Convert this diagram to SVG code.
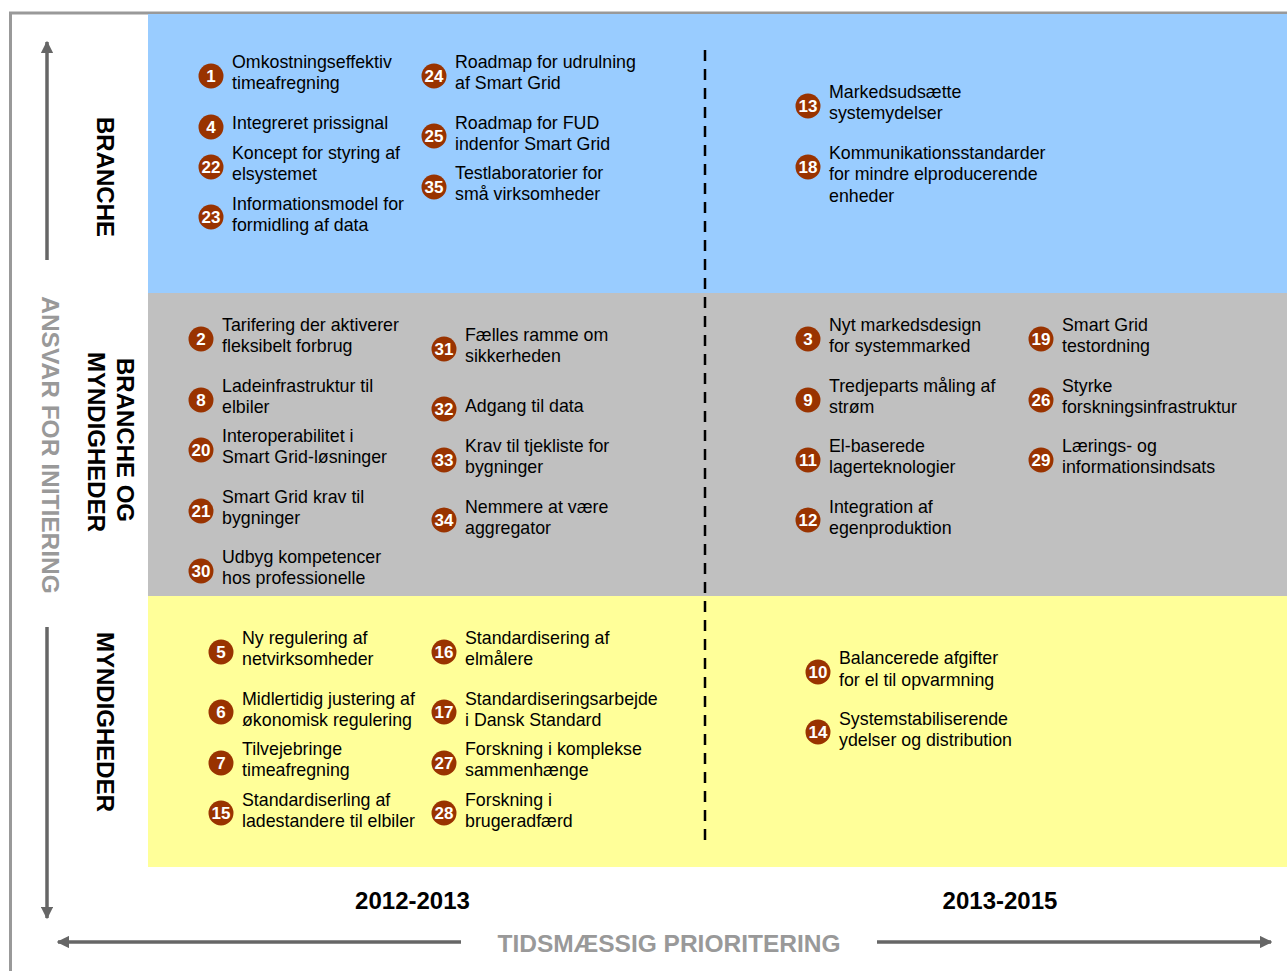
<svg xmlns="http://www.w3.org/2000/svg" width="1287" height="971" viewBox="0 0 1287 971">
<defs>
<style>
.it{font-family:"Liberation Sans",Arial,sans-serif;font-size:17.8px;fill:#000}
.bn{font-family:"Liberation Sans",Arial,sans-serif;font-size:17px;font-weight:bold;fill:#fff;text-anchor:middle}
.bc{fill:#993300}
.lab{font-family:"Liberation Sans",Arial,sans-serif;font-size:24px;font-weight:bold;fill:#000;text-anchor:middle}
.glab{font-family:"Liberation Sans",Arial,sans-serif;font-size:24.5px;font-weight:bold;fill:#999;text-anchor:middle}
.ax{stroke:#666;stroke-width:3.5;fill:none}
</style>
<marker id="ah" viewBox="0 0 10 10" refX="9" refY="5" markerWidth="3.6" markerHeight="3.6" orient="auto" markerUnits="strokeWidth">
<path d="M0,0 L10,5 L0,10 z" fill="#666"/>
</marker>
</defs>
<rect width="1287" height="971" fill="#fff"/>
<g id="frame">
<path d="M10.5,971 V13 H1287" stroke="#999" stroke-width="3" fill="none"/>
</g>
<g id="bands">
<rect x="148" y="14" width="1139" height="279" fill="#99CCFF"/>
<rect x="148" y="293" width="1139" height="303" fill="#C0C0C0"/>
<rect x="148" y="596" width="1139" height="271" fill="#FFFF99"/>
</g>
<g id="connectors">
<line x1="47" y1="260" x2="47" y2="42" class="ax" marker-end="url(#ah)"/>
<line x1="47" y1="627" x2="47" y2="918" class="ax" marker-end="url(#ah)"/>
<line x1="461" y1="942" x2="58" y2="942" class="ax" marker-end="url(#ah)"/>
<line x1="877" y1="942" x2="1271" y2="942" class="ax" marker-end="url(#ah)"/>
<line x1="705" y1="50" x2="705" y2="842" stroke="#000" stroke-width="2.5" stroke-dasharray="11 8"/>
</g>
<g id="labels">
<text class="lab" transform="translate(97,177) rotate(90)">BRANCHE</text>
<text class="lab" transform="translate(117,440) rotate(90)">BRANCHE OG</text>
<text class="lab" transform="translate(88,442) rotate(90)">MYNDIGHEDER</text>
<text class="lab" transform="translate(97,722) rotate(90)">MYNDIGHEDER</text>
<text class="glab" transform="translate(42,445) rotate(90)">ANSVAR FOR INITIERING</text>
<text class="lab" x="412.5" y="909">2012-2013</text>
<text class="lab" x="1000" y="909">2013-2015</text>
<text class="glab" x="669" y="952">TIDSMÆSSIG PRIORITERING</text>
</g>
<g id="n1"><circle class="bc" cx="211" cy="76" r="12.5"/><text class="bn" x="211" y="82">1</text><text class="it" x="232" y="68">Omkostningseffektiv</text><text class="it" x="232" y="89">timeafregning</text></g>
<g id="n4"><circle class="bc" cx="211" cy="127" r="12.5"/><text class="bn" x="211" y="133">4</text><text class="it" x="232" y="129">Integreret prissignal</text></g>
<g id="n22"><circle class="bc" cx="211" cy="167" r="12.5"/><text class="bn" x="211" y="173">22</text><text class="it" x="232" y="159">Koncept for styring af</text><text class="it" x="232" y="180">elsystemet</text></g>
<g id="n23"><circle class="bc" cx="211" cy="217" r="12.5"/><text class="bn" x="211" y="223">23</text><text class="it" x="232" y="210">Informationsmodel for</text><text class="it" x="232" y="231">formidling af data</text></g>
<g id="n24"><circle class="bc" cx="434" cy="76" r="12.5"/><text class="bn" x="434" y="82">24</text><text class="it" x="455" y="68">Roadmap for udrulning</text><text class="it" x="455" y="89">af Smart Grid</text></g>
<g id="n25"><circle class="bc" cx="434" cy="136" r="12.5"/><text class="bn" x="434" y="142">25</text><text class="it" x="455" y="129">Roadmap for FUD</text><text class="it" x="455" y="150">indenfor Smart Grid</text></g>
<g id="n35"><circle class="bc" cx="434" cy="187" r="12.5"/><text class="bn" x="434" y="193">35</text><text class="it" x="455" y="179">Testlaboratorier for</text><text class="it" x="455" y="200">små virksomheder</text></g>
<g id="n13"><circle class="bc" cx="808" cy="106" r="12.5"/><text class="bn" x="808" y="112">13</text><text class="it" x="829" y="98">Markedsudsætte</text><text class="it" x="829" y="119">systemydelser</text></g>
<g id="n18"><circle class="bc" cx="808" cy="167" r="12.5"/><text class="bn" x="808" y="173">18</text><text class="it" x="829" y="159">Kommunikationsstandarder</text><text class="it" x="829" y="180">for mindre elproducerende</text><text class="it" x="829" y="202">enheder</text></g>
<g id="n2"><circle class="bc" cx="201" cy="339" r="12.5"/><text class="bn" x="201" y="345">2</text><text class="it" x="222" y="331">Tarifering der aktiverer</text><text class="it" x="222" y="352">fleksibelt forbrug</text></g>
<g id="n8"><circle class="bc" cx="201" cy="400" r="12.5"/><text class="bn" x="201" y="406">8</text><text class="it" x="222" y="392">Ladeinfrastruktur til</text><text class="it" x="222" y="413">elbiler</text></g>
<g id="n20"><circle class="bc" cx="201" cy="450" r="12.5"/><text class="bn" x="201" y="456">20</text><text class="it" x="222" y="442">Interoperabilitet i</text><text class="it" x="222" y="463">Smart Grid-løsninger</text></g>
<g id="n21"><circle class="bc" cx="201" cy="511" r="12.5"/><text class="bn" x="201" y="517">21</text><text class="it" x="222" y="503">Smart Grid krav til</text><text class="it" x="222" y="524">bygninger</text></g>
<g id="n30"><circle class="bc" cx="201" cy="571" r="12.5"/><text class="bn" x="201" y="577">30</text><text class="it" x="222" y="563">Udbyg kompetencer</text><text class="it" x="222" y="584">hos professionelle</text></g>
<g id="n31"><circle class="bc" cx="444" cy="349" r="12.5"/><text class="bn" x="444" y="355">31</text><text class="it" x="465" y="341">Fælles ramme om</text><text class="it" x="465" y="362">sikkerheden</text></g>
<g id="n32"><circle class="bc" cx="444" cy="409" r="12.5"/><text class="bn" x="444" y="415">32</text><text class="it" x="465" y="412">Adgang til data</text></g>
<g id="n33"><circle class="bc" cx="444" cy="460" r="12.5"/><text class="bn" x="444" y="466">33</text><text class="it" x="465" y="452">Krav til tjekliste for</text><text class="it" x="465" y="473">bygninger</text></g>
<g id="n34"><circle class="bc" cx="444" cy="520" r="12.5"/><text class="bn" x="444" y="526">34</text><text class="it" x="465" y="513">Nemmere at være</text><text class="it" x="465" y="534">aggregator</text></g>
<g id="n3"><circle class="bc" cx="808" cy="339" r="12.5"/><text class="bn" x="808" y="345">3</text><text class="it" x="829" y="331">Nyt markedsdesign</text><text class="it" x="829" y="352">for systemmarked</text></g>
<g id="n9"><circle class="bc" cx="808" cy="400" r="12.5"/><text class="bn" x="808" y="406">9</text><text class="it" x="829" y="392">Tredjeparts måling af</text><text class="it" x="829" y="413">strøm</text></g>
<g id="n11"><circle class="bc" cx="808" cy="460" r="12.5"/><text class="bn" x="808" y="466">11</text><text class="it" x="829" y="452">El-baserede</text><text class="it" x="829" y="473">lagerteknologier</text></g>
<g id="n12"><circle class="bc" cx="808" cy="520" r="12.5"/><text class="bn" x="808" y="526">12</text><text class="it" x="829" y="513">Integration af</text><text class="it" x="829" y="534">egenproduktion</text></g>
<g id="n19"><circle class="bc" cx="1041" cy="339" r="12.5"/><text class="bn" x="1041" y="345">19</text><text class="it" x="1062" y="331">Smart Grid</text><text class="it" x="1062" y="352">testordning</text></g>
<g id="n26"><circle class="bc" cx="1041" cy="400" r="12.5"/><text class="bn" x="1041" y="406">26</text><text class="it" x="1062" y="392">Styrke</text><text class="it" x="1062" y="413">forskningsinfrastruktur</text></g>
<g id="n29"><circle class="bc" cx="1041" cy="460" r="12.5"/><text class="bn" x="1041" y="466">29</text><text class="it" x="1062" y="452">Lærings- og</text><text class="it" x="1062" y="473">informationsindsats</text></g>
<g id="n5"><circle class="bc" cx="221" cy="652" r="12.5"/><text class="bn" x="221" y="658">5</text><text class="it" x="242" y="644">Ny regulering af</text><text class="it" x="242" y="665">netvirksomheder</text></g>
<g id="n6"><circle class="bc" cx="221" cy="712" r="12.5"/><text class="bn" x="221" y="718">6</text><text class="it" x="242" y="705">Midlertidig justering af</text><text class="it" x="242" y="726">økonomisk regulering</text></g>
<g id="n7"><circle class="bc" cx="221" cy="763" r="12.5"/><text class="bn" x="221" y="769">7</text><text class="it" x="242" y="755">Tilvejebringe</text><text class="it" x="242" y="776">timeafregning</text></g>
<g id="n15"><circle class="bc" cx="221" cy="813" r="12.5"/><text class="bn" x="221" y="819">15</text><text class="it" x="242" y="806">Standardiserling af</text><text class="it" x="242" y="827">ladestandere til elbiler</text></g>
<g id="n16"><circle class="bc" cx="444" cy="652" r="12.5"/><text class="bn" x="444" y="658">16</text><text class="it" x="465" y="644">Standardisering af</text><text class="it" x="465" y="665">elmålere</text></g>
<g id="n17"><circle class="bc" cx="444" cy="712" r="12.5"/><text class="bn" x="444" y="718">17</text><text class="it" x="465" y="705">Standardiseringsarbejde</text><text class="it" x="465" y="726">i Dansk Standard</text></g>
<g id="n27"><circle class="bc" cx="444" cy="763" r="12.5"/><text class="bn" x="444" y="769">27</text><text class="it" x="465" y="755">Forskning i komplekse</text><text class="it" x="465" y="776">sammenhænge</text></g>
<g id="n28"><circle class="bc" cx="444" cy="813" r="12.5"/><text class="bn" x="444" y="819">28</text><text class="it" x="465" y="806">Forskning i</text><text class="it" x="465" y="827">brugeradfærd</text></g>
<g id="n10"><circle class="bc" cx="818" cy="672" r="12.5"/><text class="bn" x="818" y="678">10</text><text class="it" x="839" y="664">Balancerede afgifter</text><text class="it" x="839" y="686">for el til opvarmning</text></g>
<g id="n14"><circle class="bc" cx="818" cy="732" r="12.5"/><text class="bn" x="818" y="738">14</text><text class="it" x="839" y="725">Systemstabiliserende</text><text class="it" x="839" y="746">ydelser og distribution</text></g>
</svg>
